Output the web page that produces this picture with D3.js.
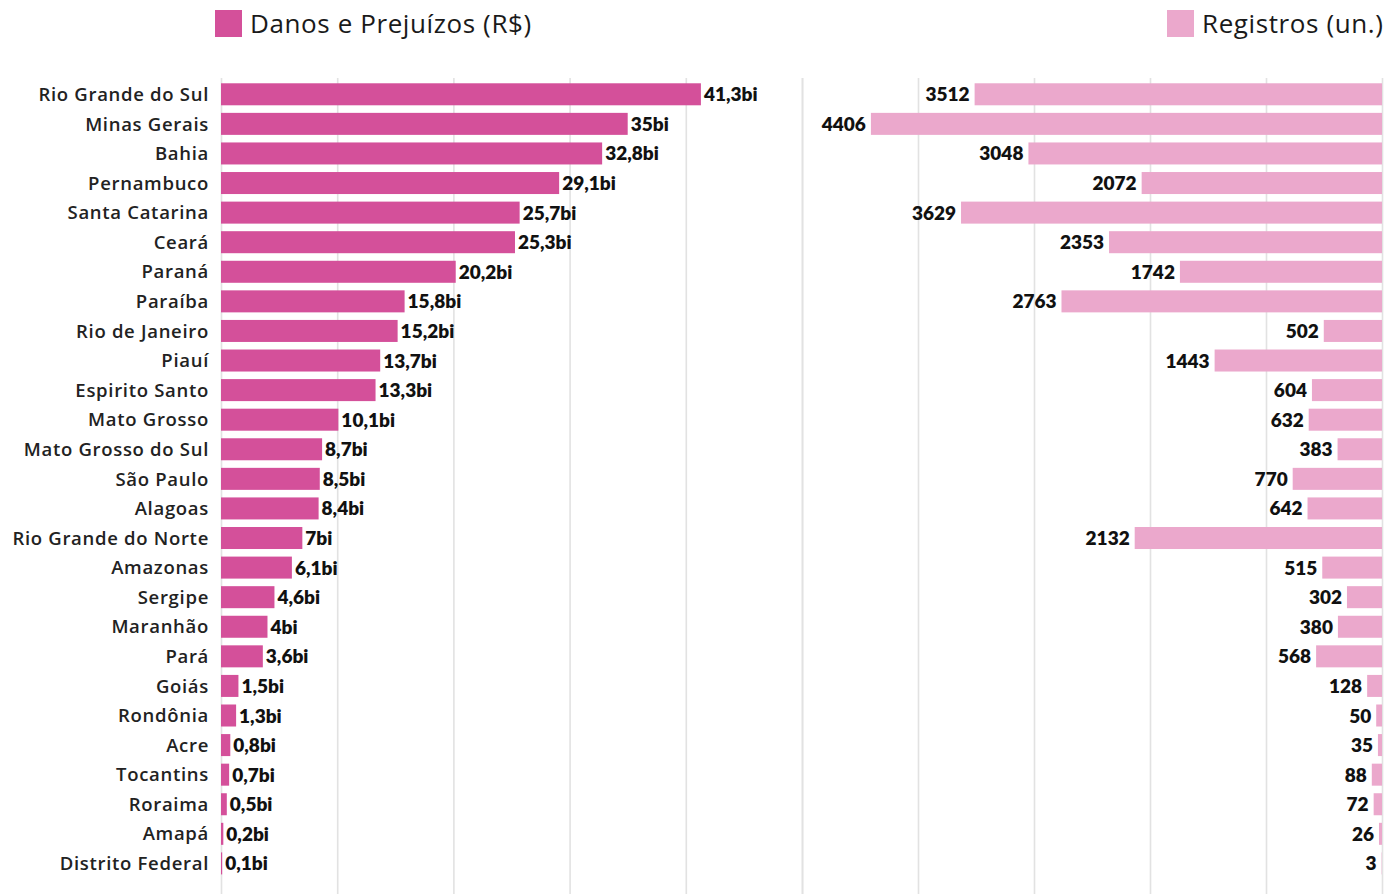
<!DOCTYPE html>
<html>
<head>
<meta charset="utf-8">
<script src="https://cdn.jsdelivr.net/npm/d3@7"></script>
<style>
  body { margin: 0; background: #fff; }
  text { font-family: Lato, "Open Sans", sans-serif; fill: #1a1a1a; }
  .cat { font-family: "Open Sans", sans-serif; font-weight: 600; letter-spacing: 0.7px; fill: #222; }
  .legend text { font-family: "Open Sans", sans-serif; letter-spacing: 0.6px; }
  .val { font-family: Lato, sans-serif; font-weight: 800; fill: #111; }
  .grid line { stroke: #e2e2e2; stroke-width: 1.6; }
  .grid .domain { display: none; }
</style>
</head>
<body>
<script>
const states = ["Rio Grande do Sul", "Minas Gerais", "Bahia", "Pernambuco", "Santa Catarina", "Ceará",
    "Paraná", "Paraíba", "Rio de Janeiro", "Piauí", "Espirito Santo", "Mato Grosso", "Mato Grosso do Sul",
    "São Paulo", "Alagoas", "Rio Grande do Norte", "Amazonas", "Sergipe", "Maranhão", "Pará", "Goiás",
    "Rondônia", "Acre", "Tocantins", "Roraima", "Amapá", "Distrito Federal"]
const danos = [41.3, 35, 32.8, 29.1, 25.7, 25.3, 20.2, 15.8, 15.2, 13.7, 13.3, 10.1, 8.7, 8.5, 8.4, 7,
    6.1, 4.6, 4, 3.6, 1.5, 1.3, 0.8, 0.7, 0.5, 0.2, 0.1]
const registros = [3512, 4406, 3048, 2072, 3629, 2353, 1742, 2763, 502, 1443, 604, 632, 383, 770, 642,
    2132, 515, 302, 380, 568, 128, 50, 35, 88, 72, 26, 3]
const danosTicks = [0, 10, 20, 30, 40, 50]
const registrosTicks = [0, 1000, 2000, 3000, 4000, 5000]

const width = 1387, height = 894

const svg = d3.select("body")
    .append("svg")
    .attr("width", width)
    .attr("height", height)

const br = d3.formatLocale({ decimal: ",", thousands: ".", grouping: [3], currency: ["R$", ""] })
const fmt = br.format("~g")

const xLeft = d3.scaleLinear().domain([0, 50]).range([221, 802])
const xRight = d3.scaleLinear().domain([0, 5000]).range([1382, 802])
const y = d3.scaleBand().domain(states).range([79.5, 878.2]).paddingInner(0.256).paddingOuter(0.128)

// grid lines
svg.append("g")
    .attr("class", "grid")
    .attr("transform", "translate(0,78)")
    .call(d3.axisBottom(xLeft).tickValues(danosTicks).tickSize(height - 78).tickFormat(""))
svg.append("g")
    .attr("class", "grid")
    .attr("transform", "translate(0,78)")
    .call(d3.axisBottom(xRight).tickValues(registrosTicks).tickSize(height - 78).tickFormat(""))

// left bars
svg.selectAll(".bar-d")
    .data(danos)
    .enter().append("rect")
    .attr("class", "bar-d")
    .attr("x", xLeft(0))
    .attr("y", (d, i) => y(states[i]))
    .attr("width", d => xLeft(d) - xLeft(0))
    .attr("height", y.bandwidth())
    .attr("fill", "#d4509a")

svg.selectAll(".lab-d")
    .data(danos)
    .enter().append("text")
    .attr("class", "val")
    .attr("x", d => xLeft(d) + 3)
    .attr("y", (d, i) => y(states[i]) + y.bandwidth() / 2)
    .attr("dy", "0.37em")
    .style("font-size", "19px")
    .text(d => fmt(d) + "bi")

// state names
svg.selectAll(".cat")
    .data(states)
    .enter().append("text")
    .attr("class", "cat")
    .attr("x", 209)
    .attr("y", d => y(d) + y.bandwidth() / 2)
    .attr("dy", "0.36em")
    .attr("text-anchor", "end")
    .style("font-size", "18.5px")
    .text(d => d)

// right bars
svg.selectAll(".bar-r")
    .data(registros)
    .enter().append("rect")
    .attr("class", "bar-r")
    .attr("x", d => xRight(d))
    .attr("y", (d, i) => y(states[i]))
    .attr("width", d => xRight(0) - xRight(d))
    .attr("height", y.bandwidth())
    .attr("fill", "#eba8cc")

svg.selectAll(".lab-r")
    .data(registros)
    .enter().append("text")
    .attr("class", "val")
    .attr("x", d => xRight(d) - 5)
    .attr("y", (d, i) => y(states[i]) + y.bandwidth() / 2)
    .attr("dy", "0.37em")
    .attr("text-anchor", "end")
    .style("font-size", "19px")
    .text(d => d)

// legends
const legends = [
    { x: 215, color: "#d4509a", label: "Danos e Prejuízos (R$)" },
    { x: 1167, color: "#eba8cc", label: "Registros (un.)" }
]
const lg = svg.selectAll(".legend")
    .data(legends)
    .enter().append("g")
    .attr("class", "legend")
    .attr("transform", d => `translate(${d.x},10)`)
lg.append("rect")
    .attr("width", 27)
    .attr("height", 27)
    .attr("fill", d => d.color)
lg.append("text")
    .attr("x", 35)
    .attr("y", 23)
    .style("font-size", "26px")
    .text(d => d.label)
</script>
</body>
</html>
